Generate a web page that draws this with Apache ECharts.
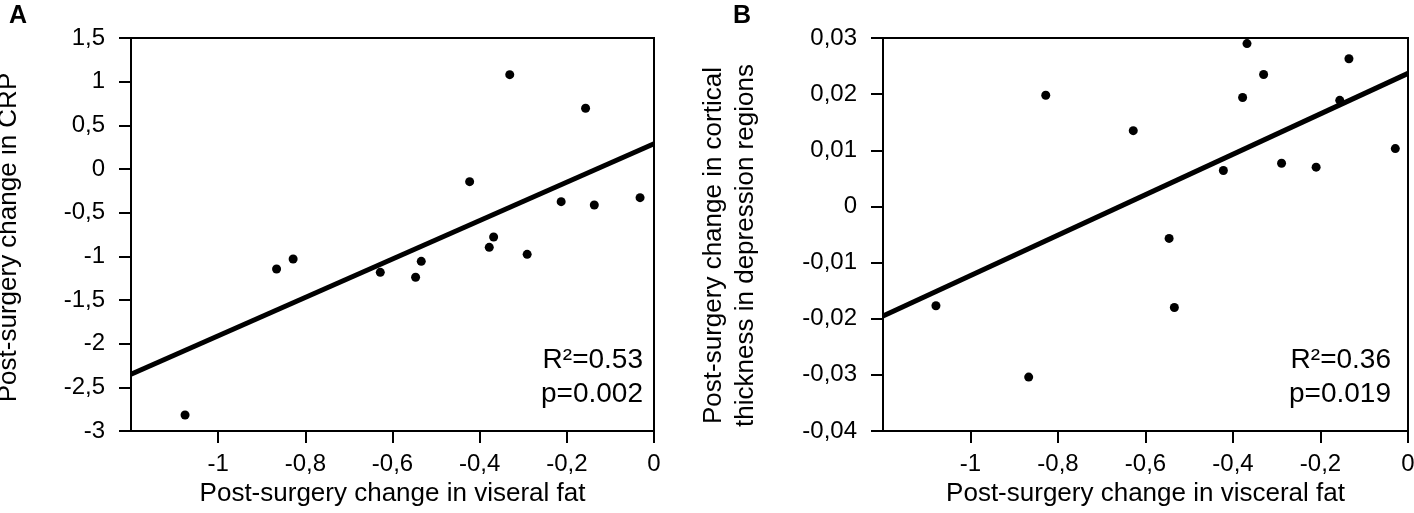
<!DOCTYPE html>
<html>
<head>
<meta charset="utf-8">
<script src="https://cdn.jsdelivr.net/npm/echarts/dist/echarts.min.js"></script>
<style>
  html, body { margin: 0; padding: 0; background: #fff; }
  #chart { width: 1414px; height: 513px; }
</style>
</head>
<body>
<div id="chart"></div>
<script type="text/javascript">
// panel A: visceral fat change vs CRP change
var fatA = [-1.076, -0.866, -0.828, -0.628, -0.547, -0.534, -0.423, -0.331, -0.378, -0.368, -0.291, -0.213, -0.157, -0.137, -0.032];
var crpA = [-2.817, -1.145, -1.031, -1.183, -1.240, -1.057, -0.145, 1.080, -0.897, -0.779, -0.977, -0.374, 0.695, -0.412, -0.328];
var fitA = [[-1.2, -2.35], [0, 0.29]];
var statsA = ['R\u00b2=0.53', 'p=0.002'];

// panel B: visceral fat change vs cortical thickness change
var fatB = [-1.079, -0.867, -0.828, -0.628, -0.546, -0.534, -0.422, -0.378, -0.368, -0.330, -0.289, -0.210, -0.156, -0.135, -0.029];
var thickB = [-0.0177, -0.0304, 0.0198, 0.0135, -0.0057, -0.0180, 0.0064, 0.0194, 0.0290, 0.0235, 0.0077, 0.0070, 0.0189, 0.0263, 0.0103];
var fitB = [[-1.2, -0.0195], [0, 0.0237]];
var statsB = ['R\u00b2=0.36', 'p=0.019'];

// axis ranges
var xRange = { min: -1.2, max: 0, interval: 0.2 };
var yRangeA = { min: -3, max: 1.5, interval: 0.5 };
var yRangeB = { min: -0.04, max: 0.03, interval: 0.01 };

var font = "'Liberation Sans', Arial, sans-serif";

function comma(v) {
    return String(parseFloat(v.toFixed(4))).replace('.', ',');
}

function pairs(xs, ys) {
    return xs.map(function (x, i) { return [x, ys[i]]; });
}

function xAxisOf(grid, name) {
    return {
        type: 'value', gridIndex: grid,
        min: xRange.min, max: xRange.max, interval: xRange.interval,
        name: name, nameLocation: 'middle', nameGap: 50,
        nameTextStyle: { color: '#000', fontSize: 26, fontFamily: font },
        axisLine: { show: true, onZero: false, lineStyle: { color: '#000', width: 2 } },
        axisTick: { show: true, length: 12, lineStyle: { color: '#000', width: 2 } },
        axisLabel: { showMinLabel: false, margin: 21, color: '#000', fontSize: 24, fontFamily: font, formatter: comma },
        splitLine: { show: false }
    };
}

function yAxisOf(grid, range, name, gap, pad) {
    return {
        type: 'value', gridIndex: grid,
        min: range.min, max: range.max, interval: range.interval,
        name: name, nameLocation: 'middle', nameGap: gap,
        nameTextStyle: { color: '#000', fontSize: 26, fontFamily: font, lineHeight: 32, padding: pad },
        axisLine: { show: true, onZero: false, lineStyle: { color: '#000', width: 2 } },
        axisTick: { show: true, length: 12, lineStyle: { color: '#000', width: 2 } },
        axisLabel: { margin: 26, color: '#000', fontSize: 24, fontFamily: font, formatter: comma },
        splitLine: { show: false }
    };
}

function statText(x, y, txt) {
    return {
        type: 'text', x: x, y: y,
        style: { text: txt, fill: '#000', font: '28px ' + font, align: 'right', verticalAlign: 'middle' }
    };
}

var myChart = echarts.init(document.getElementById('chart'));
var option = {
    backgroundColor: '#fff',
    animation: false,
    grid: [
        { left: 131, right: 760, top: 38, bottom: 82, outerBoundsMode: 'none', containLabel: false,
          show: true, borderColor: '#000', borderWidth: 2 },
        { left: 883, right: 6, top: 38, bottom: 82, outerBoundsMode: 'none', containLabel: false,
          show: true, borderColor: '#000', borderWidth: 2 }
    ],
    xAxis: [
        xAxisOf(0, 'Post-surgery change in viseral fat'),
        xAxisOf(1, 'Post-surgery change in visceral fat')
    ],
    yAxis: [
        yAxisOf(0, yRangeA, 'Post-surgery change in CRP', 106, [0, 6, 0, 0]),
        yAxisOf(1, yRangeB, 'Post-surgery change in cortical\nthickness in depression regions', 121, [0, 22, 0, 0])
    ],
    series: [
        { type: 'scatter', xAxisIndex: 0, yAxisIndex: 0, data: pairs(fatA, crpA), symbolSize: 9, itemStyle: { color: '#000', opacity: 1 } },
        { type: 'line', xAxisIndex: 0, yAxisIndex: 0, data: fitA, symbol: 'none', clip: false, lineStyle: { color: '#000', width: 5 } },
        { type: 'scatter', xAxisIndex: 1, yAxisIndex: 1, data: pairs(fatB, thickB), symbolSize: 9, itemStyle: { color: '#000', opacity: 1 } },
        { type: 'line', xAxisIndex: 1, yAxisIndex: 1, data: fitB, symbol: 'none', clip: false, lineStyle: { color: '#000', width: 5 } }
    ],
    graphic: [
        { type: 'text', left: 9, top: 4, style: { text: 'A', fill: '#000', font: 'bold 25px ' + font } },
        { type: 'text', left: 733, top: 4, style: { text: 'B', fill: '#000', font: 'bold 25px ' + font } },
        // stat labels right-aligned against the plot frames
        statText(643, 360, statsA[0]),
        statText(643, 394, statsA[1]),
        statText(1391, 360, statsB[0]),
        statText(1391, 394, statsB[1])
    ]
};
myChart.setOption(option);
</script>
</body>
</html>
